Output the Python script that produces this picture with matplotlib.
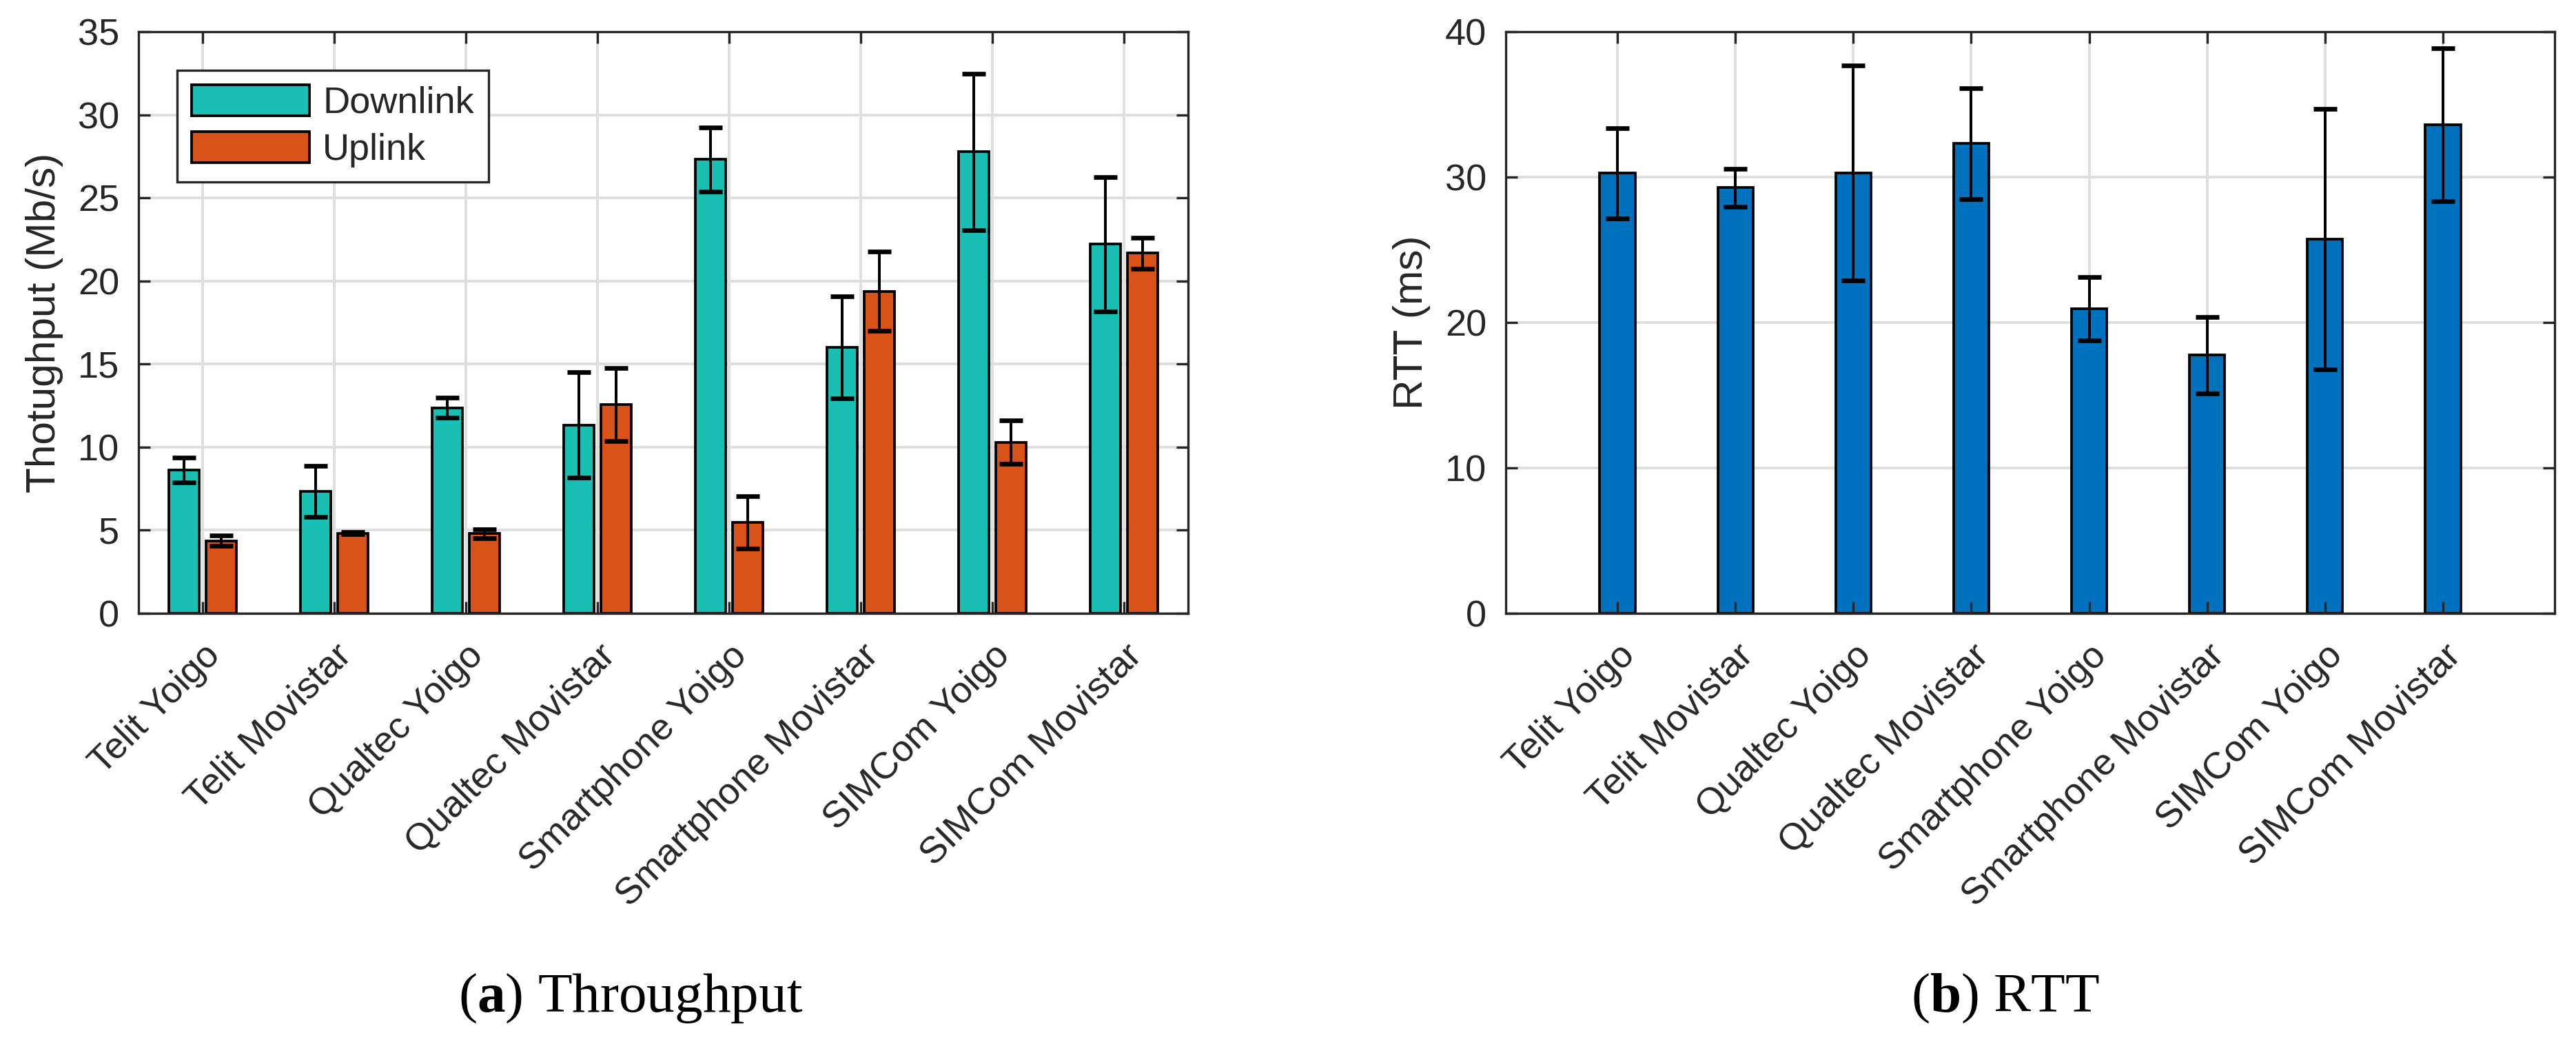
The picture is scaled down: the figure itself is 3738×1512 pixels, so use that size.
import matplotlib
matplotlib.use("Agg")
import matplotlib.pyplot as plt
import numpy as np

plt.rcParams['font.family'] = ['Liberation Sans', 'DejaVu Sans']
plt.rcParams['mathtext.fontset'] = 'custom'
plt.rcParams['mathtext.rm'] = 'Liberation Serif'
plt.rcParams['mathtext.bf'] = 'Liberation Serif:bold'

# ---------------- data ----------------
categories = ["Telit Yoigo", "Telit Movistar", "Qualtec Yoigo", "Qualtec Movistar",
              "Smartphone Yoigo", "Smartphone Movistar", "SIMCom Yoigo", "SIMCom Movistar"]
dl_mean = [8.62, 7.35, 12.37, 11.34, 27.31, 16.01, 27.77, 22.21]
dl_std = [0.76, 1.54, 0.61, 3.18, 1.94, 3.08, 4.71, 4.05]
ul_mean = [4.37, 4.83, 4.79, 12.56, 5.48, 19.38, 10.30, 21.68]
ul_std = [0.30, 0.08, 0.25, 2.20, 1.57, 2.39, 1.32, 0.94]
rtt_mean = [30.28, 29.28, 30.28, 32.30, 20.96, 17.77, 25.73, 33.61]
rtt_std = [3.10, 1.31, 7.40, 3.80, 2.17, 2.63, 8.97, 5.25]
series_labels = ["Downlink", "Uplink"]
thr_yticks = [0, 5, 10, 15, 20, 25, 30, 35]
rtt_yticks = [0, 10, 20, 30, 40]

# ---------------- style ----------------
W, H = 3738, 1512
DPI = 300
dark = (0.15, 0.15, 0.15)
grid_c = '#DFDFDF'
teal = (0.1, 0.75, 0.7)
orange = (0.85, 0.325, 0.098)
blue = (0.0, 0.447, 0.741)

fig = plt.figure(figsize=(W / DPI, H / DPI), dpi=DPI)
ax1 = fig.add_axes([201 / W, 1 - 890 / H, 1523 / W, 844 / H])
ax2 = fig.add_axes([2185 / W, 1 - 890 / H, 1522 / W, 844 / H])

x = np.arange(1, len(categories) + 1)
off = 0.1428
bw = 0.2286
err_kw = dict(fmt='none', ecolor='k', elinewidth=0.96, capsize=4.08, capthick=1.6, zorder=3)

ax1.bar(x - off, dl_mean, bw, color=teal, edgecolor='k', linewidth=0.9, zorder=1, label=series_labels[0])
ax1.bar(x + off, ul_mean, bw, color=orange, edgecolor='k', linewidth=0.9, zorder=1, label=series_labels[1])
ax1.errorbar(x - off, dl_mean, yerr=dl_std, **err_kw)
ax1.errorbar(x + off, ul_mean, yerr=ul_std, **err_kw)

ax2.bar(x, rtt_mean, 0.3, color=blue, edgecolor='k', linewidth=0.9, zorder=1)
ax2.errorbar(x, rtt_mean, yerr=rtt_std, **err_kw)


def style(ax, yticks, xlim):
    ax.set_xlim(*xlim)
    ax.set_ylim(yticks[0], yticks[-1])
    ax.set_xticks(x)
    ax.set_xticklabels(categories, rotation=45, ha='right', va='top', rotation_mode='anchor')
    ax.set_yticks(yticks)
    ax.tick_params(direction='in', length=4, width=0.8, color=dark, labelcolor=dark,
                   top=True, right=True, labelsize=13)
    ax.tick_params(axis='x', pad=8.6)
    ax.tick_params(axis='y', pad=6.7)
    for s in ax.spines.values():
        s.set_linewidth(0.8)
        s.set_color(dark)
    for t in yticks:
        ax.axhline(t, color=grid_c, linewidth=0.96, zorder=0)
    for xi in x:
        ax.axvline(xi, color=grid_c, linewidth=0.96, zorder=0)


style(ax1, thr_yticks, (0.513, 8.487))
style(ax2, rtt_yticks, (0.053, 8.947))

ax1.set_ylabel('Thotughput (Mb/s)', fontsize=14.5, color=dark, labelpad=5)
ax2.set_ylabel('RTT (ms)', fontsize=14.5, color=dark, labelpad=5)

leg = ax1.legend(loc='upper left', bbox_to_anchor=(0.0368, 0.9336), borderaxespad=0,
                 fontsize=13, frameon=True, fancybox=False, edgecolor=dark, framealpha=1,
                 handlelength=3.17, handleheight=0.9, handletextpad=0.35, borderpad=0.38,
                 labelspacing=0.3)
leg.get_frame().set_linewidth(0.8)
leg.set_zorder(5)
for t in leg.get_texts():
    t.set_color(dark)

fig.text(915 / W, 1 - 1468 / H, r'($\mathbf{a}$) Throughput', ha='center', va='baseline',
         fontsize=19.5, family='Liberation Serif')
fig.text(2910 / W, 1 - 1468 / H, r'($\mathbf{b}$) RTT', ha='center', va='baseline',
         fontsize=19.5, family='Liberation Serif')

fig.savefig('out.png', dpi=DPI)
